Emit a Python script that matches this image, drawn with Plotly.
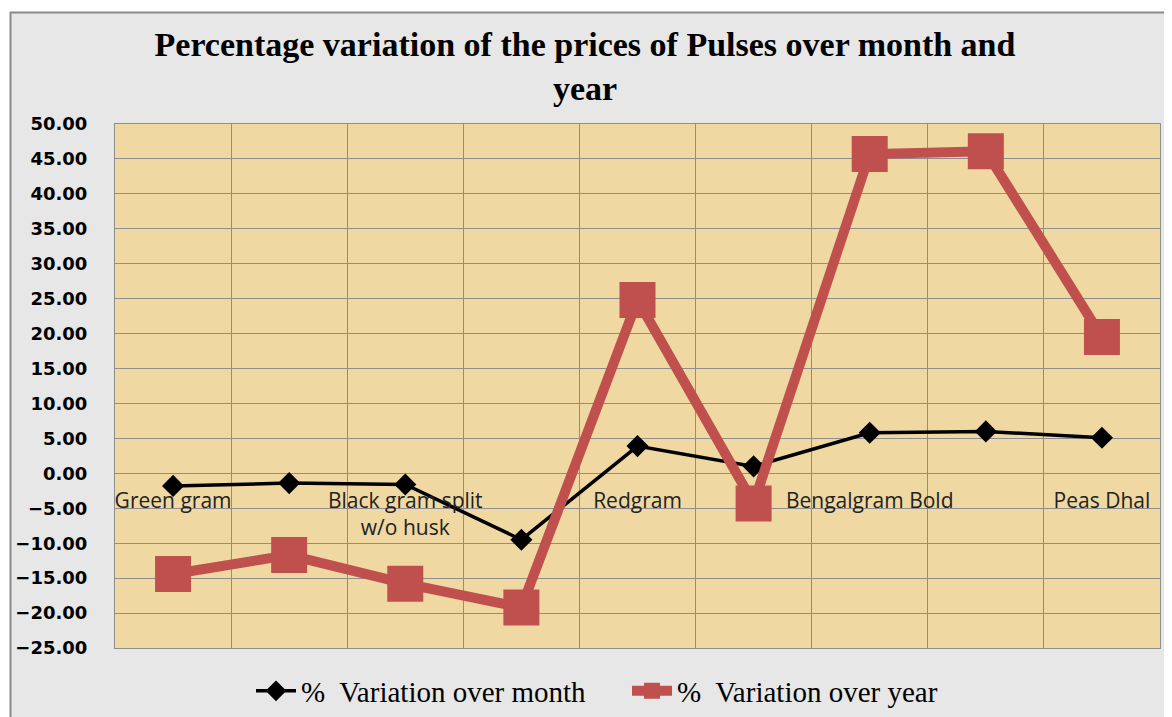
import plotly.graph_objects as go

categories = ["Green gram", "Green gram Dhal", "Black gram split w/o husk", "Black gram Dhal",
              "Redgram", "Redgram Dhal", "Bengalgram Bold", "Bengalgram Dhal", "Peas Dhal"]
shown_labels = ["Green gram", "Black gram split<br>w/o husk", "Redgram", "Bengalgram Bold", "Peas Dhal"]
shown_cats = [categories[i] for i in (0, 2, 4, 6, 8)]
var_month = [-1.8, -1.4, -1.6, -9.5, 3.9, 1.0, 5.8, 6.0, 5.1]
var_year = [-14.4, -11.7, -15.8, -19.2, 24.8, -4.3, 45.7, 46.1, 19.5]
y_ticks = [50, 45, 40, 35, 30, 25, 20, 15, 10, 5, 0, -5, -10, -15, -20, -25]

OFF = 8  # page body margin (figure starts at page pixel 8,8)
W, H = 1172, 717
L, T = 115 - OFF, 124 - OFF
R, B = W - (1160 - OFF), H - (648 - OFF)
pw, ph = W - L - R, H - T - B

def px_x(p):  # reference page pixel -> paper fraction
    return (p - OFF - L) / pw

def px_y(p):
    return (H - B - (p - OFF)) / ph

fig = go.Figure()
fig.add_trace(go.Scatter(
    x=categories, y=var_month, name="%  Variation over month", mode="lines+markers",
    line=dict(color="black", width=3.5),
    marker=dict(symbol="diamond", size=17, color="black"),
))
fig.add_trace(go.Scatter(
    x=categories, y=var_year, name="%  Variation over year", mode="lines+markers",
    line=dict(color="#C0504D", width=10),
    marker=dict(symbol="square", size=36, color="#C0504D"),
))
# helper trace for the label axis
fig.add_trace(go.Scatter(
    x=categories, y=[None] * len(categories), xaxis="x2", mode="markers",
    showlegend=False, hoverinfo="skip", marker=dict(opacity=0),
))

ymin, ymax = min(y_ticks), max(y_ticks)
fig.update_layout(
    width=W, height=H,
    margin=dict(l=L, r=R, t=T, b=B, pad=0, autoexpand=False),
    paper_bgcolor="#E7E7E7",
    plot_bgcolor="#EFD8A2",
    title=dict(
        text="Percentage variation of the prices of Pulses over month and<br>year",
        x=px_x(585), xanchor="center", xref="paper",
        y=1 - (56 - OFF) / H, yanchor="middle",
        font=dict(family="Liberation Serif", size=34, color="black", weight="bold"),
    ),
    xaxis=dict(
        type="category", categoryorder="array", categoryarray=categories,
        range=[-0.5, len(categories) - 0.5], automargin=False,
        tickson="boundaries", showgrid=True, gridcolor="#8E8E8E", gridwidth=1,
        showticklabels=False, ticks="", showline=True, linecolor="#8E8E8E", mirror=True,
        zeroline=False,
    ),
    xaxis2=dict(
        type="category", categoryorder="array", categoryarray=categories,
        overlaying="x", matches="x", anchor="free", automargin=False,
        position=(0 - ymin) / (ymax - ymin),
        tickvals=shown_cats, ticktext=shown_labels,
        showgrid=False, showline=False, zeroline=False,
        ticks="outside", ticklen=8, tickcolor="rgba(0,0,0,0)",
        tickfont=dict(family="Open Sans", size=21, color="#222222"),
    ),
    yaxis=dict(
        range=[ymin, ymax], tickvals=y_ticks, tickformat=".2f", automargin=False,
        showgrid=True, gridcolor="#8E8E8E", gridwidth=1,
        zeroline=False, showline=True, linecolor="#8E8E8E", mirror=True,
        ticks="outside", ticklen=23, tickcolor="rgba(0,0,0,0)",
        tickfont=dict(family="DejaVu Sans", size=18, color="black", weight="bold"),
        domain=[0, 1],
    ),
    legend=dict(
        orientation="h", x=px_x(251), xanchor="left", y=px_y(691), yanchor="middle",
        font=dict(family="Liberation Serif", size=29, color="black"),
        bgcolor="rgba(0,0,0,0)", itemwidth=40,
        entrywidth=321, entrywidthmode="pixels",
    ),
    shapes=[
        dict(type="rect", xref="paper", yref="paper",
             x0=px_x(8), x1=px_x(1180), y0=px_y(12), y1=px_y(8),
             fillcolor="white", line=dict(width=0), layer="below"),
        dict(type="rect", xref="paper", yref="paper",
             x0=px_x(8), x1=px_x(10), y0=px_y(725), y1=px_y(8),
             fillcolor="white", line=dict(width=0), layer="below"),
        dict(type="rect", xref="paper", yref="paper",
             x0=px_x(10.5), x1=px_x(1185), y0=px_y(740), y1=px_y(12.5),
             fillcolor="rgba(0,0,0,0)", line=dict(color="#8A8A8A", width=2), layer="below"),
    ],
)

fig.write_html("out.html")
